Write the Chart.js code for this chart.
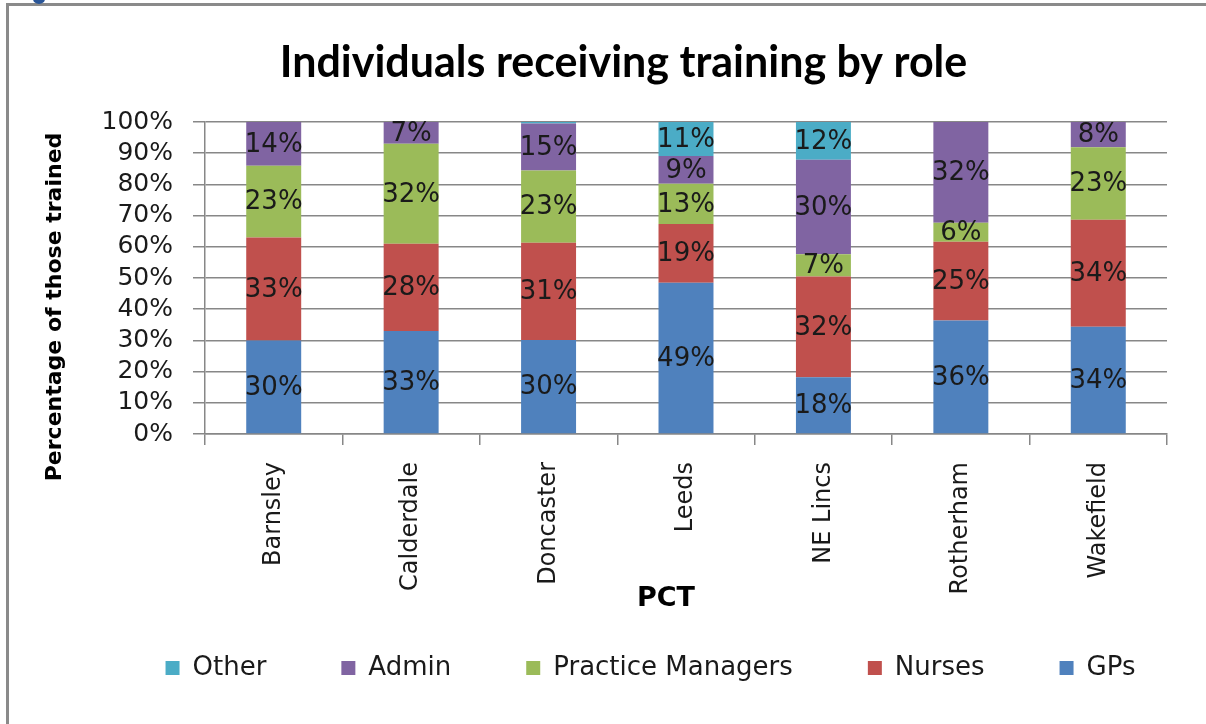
<!DOCTYPE html>
<html>
<head>
<meta charset="utf-8">
<script src="https://cdn.jsdelivr.net/npm/chart.js@4/dist/chart.umd.min.js"></script>
<style>
  html, body { margin: 0; padding: 0; background: #fff; }
  #wrap { position: relative; width: 1206px; height: 724px; overflow: hidden; }
  #frame { position: absolute; left: 6px; top: 3px; width: 1300px; height: 800px;
           border-top: 3px solid #8a8a8a; border-left: 3px solid #8a8a8a; }
  #dot { position: absolute; left: 33px; top: -6px; width: 12px; height: 10px;
         border-radius: 50%; background: #2a5698; }
  canvas { position: absolute; left: 0; top: 0; }
</style>
</head>
<body>
<div id="wrap">
  <div id="frame"></div>
  <div id="dot"></div>
  <canvas id="chart" width="1206" height="724"></canvas>
</div>
<script>
// values as printed on the bars (percent of those trained)
const categories = ['Barnsley', 'Calderdale', 'Doncaster', 'Leeds', 'NE Lincs', 'Rotherham', 'Wakefield'];
const gps = [30, 33, 30, 49, 18, 36, 34];
const nurses = [33, 28, 31, 19, 32, 25, 34];
const practiceManagers = [23, 32, 23, 13, 7, 6, 23];
const admin = [14, 7, 15, 9, 30, 32, 8];
const other = [0, 0, 0.5, 11, 12, 0, 0];

const seriesNames = ['GPs', 'Nurses', 'Practice Managers', 'Admin', 'Other'];
const seriesValues = [gps, nurses, practiceManagers, admin, other];
const seriesColors = ['#4f81bd', '#c0504d', '#9bbb59', '#8064a2', '#4bacc6'];

const gridColor = '#878787';
const font = 'DejaVu Sans';

// 100% stacked: each column scaled to its own total
const totals = categories.map((_, j) => seriesValues.reduce((s, arr) => s + arr[j], 0));

const datasets = seriesNames.map((name, i) => ({
  label: name,
  data: seriesValues[i].map((v, j) => v / totals[j] * 100),
  shown: seriesValues[i],
  backgroundColor: seriesColors[i],
  borderWidth: 0,
  barPercentage: 0.4,
  categoryPercentage: 1,
}));

const barLabels = {
  id: 'barLabels',
  afterDatasetsDraw(chart) {
    const ctx = chart.ctx;
    ctx.save();
    ctx.font = `26px "${font}"`;
    ctx.fillStyle = '#1a1a1a';
    ctx.textAlign = 'center';
    ctx.textBaseline = 'middle';
    chart.data.datasets.forEach((ds, i) => {
      chart.getDatasetMeta(i).data.forEach((bar, j) => {
        const v = ds.shown[j];
        if (v < 1) return;
        ctx.fillText(Math.round(v) + '%', bar.x, (bar.y + bar.base) / 2 + 1);
      });
    });
    ctx.restore();
  },
};

const axisTitles = {
  id: 'axisTitles',
  afterDraw(chart) {
    const ctx = chart.ctx;
    ctx.save();
    ctx.fillStyle = '#000';
    ctx.textAlign = 'center';
    ctx.textBaseline = 'middle';
    ctx.font = `bold 22px "${font}"`;
    ctx.translate(55, 307);
    ctx.rotate(-Math.PI / 2);
    ctx.fillText('Percentage of those trained', 0, 0);
    ctx.restore();
    ctx.save();
    ctx.fillStyle = '#000';
    ctx.textAlign = 'center';
    ctx.textBaseline = 'middle';
    ctx.font = `bold 27px "${font}"`;
    ctx.fillText('PCT', 666, 599);
    ctx.restore();
  },
};

const layoutTweaks = {
  id: 'layoutTweaks',
  afterLayout(chart) {
    chart.titleBlock.left += 40;
    chart.titleBlock.right += 40;
    chart.legend.left += 67;
    chart.legend.right += 67;
    chart.legend.top = 580;
  },
};

new Chart(document.getElementById('chart'), {
  type: 'bar',
  data: { labels: categories, datasets },
  plugins: [barLabels, axisTitles, layoutTweaks],
  options: {
    responsive: false,
    animation: false,
    layout: { padding: { left: 0, right: 39, top: 0, bottom: 0 } },
    plugins: {
      title: {
        display: true,
        text: 'Individuals receiving training by role',
        color: '#000',
        font: { family: 'Lato', weight: 'bold', size: 43, lineHeight: 1.2 },
        padding: { top: 37, bottom: 33.4 },
      },
      legend: {
        position: 'bottom',
        reverse: true,
        maxHeight: 50,
        labels: {
          boxWidth: 14,
          boxHeight: 14,
          padding: 75,
          color: '#1a1a1a',
          font: { family: font, size: 26 },
        },
      },
      tooltip: { enabled: false },
    },
    scales: {
      x: {
        stacked: true,
        ticks: {
          minRotation: 90, maxRotation: 90, autoSkip: false,
          padding: 17, color: '#1a1a1a',
          font: { family: font, size: 24 },
        },
        grid: { drawOnChartArea: false, offset: true, color: gridColor, lineWidth: 1.5, tickLength: 11 },
        border: { color: gridColor, width: 1.5 },
        afterFit(scale) { scale.height = 240; },
      },
      y: {
        stacked: true,
        min: 0,
        max: 100,
        ticks: {
          stepSize: 10, autoSkip: false, padding: 20, color: '#1a1a1a',
          font: { family: font, size: 25 },
          callback: (v) => v + '%',
        },
        grid: { color: gridColor, lineWidth: 1.5, tickLength: 12 },
        border: { color: gridColor, width: 1.5 },
        afterFit(scale) { scale.width = 205; },
      },
    },
  },
});
</script>
</body>
</html>
